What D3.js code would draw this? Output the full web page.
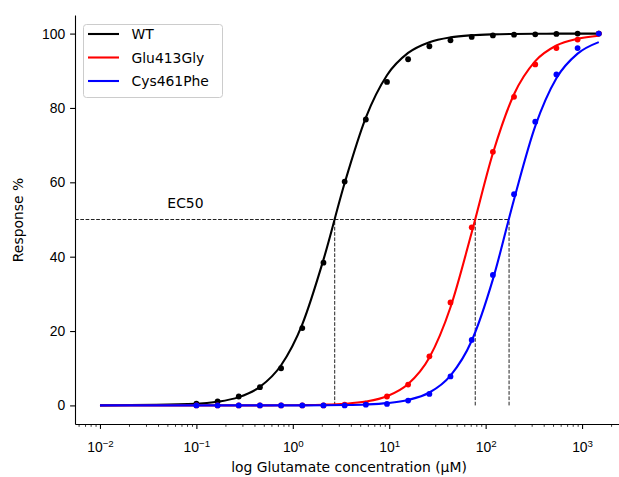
<!DOCTYPE html>
<html>
<head>
<meta charset="utf-8">
<script src="https://cdn.jsdelivr.net/npm/d3@7"></script>
<style>
  body { margin: 0; background: #fff; }
  svg { font-family: "DejaVu Sans", sans-serif; }
</style>
</head>
<body>
<div id="chart"></div>
<script>

// concentrations of the measured points (uM)
var conc = [0.1, 0.166, 0.275, 0.456, 0.756, 1.254, 2.08, 3.45, 5.72, 9.48,
            15.7, 26.1, 43.2, 71.7, 118.9, 197, 327, 542, 899, 1491];

// measured responses (%)
var wtData  = [0.5, 1.1, 2.4, 4.9, 10.0, 20.8, 38.4, 60.2, 76.9, 87.0,
               93.1, 96.6, 98.2, 99.1, 99.5, 99.7, 99.8, 99.9, 100, 100];
var gluData = [0, 0, 0, 0, 0, 0, 0, 0.2, 0.5, 2.4,
               5.6, 13.2, 27.7, 47.9, 68.2, 83.0, 91.7, 96.1, 98.4, 100];
var cysData = [0, 0, 0, 0, 0, 0, 0, 0, 0.2, 0.4,
               1.3, 3.1, 7.8, 17.6, 35.1, 56.8, 76.3, 89.0, 96.1, 100];

// fitted curves
var fitConc = [0.01].concat(conc);
var wtFit  = [0.01, 0.43, 0.98, 2.23, 5.0, 10.8, 21.8, 39.2, 59.8, 77.4, 88.8,
              94.8, 97.7, 99.0, 99.56, 99.8, 99.9, 99.96, 99.98, 99.99, 100];
var gluFit = [0, 0, 0, 0.01, 0.01, 0.03, 0.07, 0.18, 0.43, 1.03, 2.45,
              5.75, 12.9, 26.4, 46.5, 67.8, 83.7, 92.6, 96.8, 98.6, 99.4];
var cysFit = [0, 0, 0, 0, 0, 0.01, 0.02, 0.04, 0.10, 0.25, 0.61,
              1.46, 3.47, 8.03, 17.4, 33.9, 55.4, 75.1, 88.0, 94.6, 97.7];

var seriesNames = ["WT", "Glu413Gly", "Cys461Phe"];
var seriesColors = ["black", "red", "blue"];
var ec50 = [2.72, 78, 175];

var xTicks = [0.01, 0.1, 1, 10, 100, 1000];
var yTicks = [0, 20, 40, 60, 80, 100];

var svgWidth = 619;
var svgHeight = 477;
var fs = 13.9;

var svg = d3.select("#chart")
  .append("svg")
  .attr("width", svgWidth)
  .attr("height", svgHeight);

var x = d3.scaleLog()
  .domain([Math.pow(10, -2.259), Math.pow(10, 3.435)])
  .range([75, 624]);

var y = d3.scaleLinear()
  .domain([-5, 105])
  .range([424, 15]);

// minor x ticks
var minor = [];
for (var e = -3; e <= 3; e++) {
  for (var m = 2; m <= 9; m++) {
    var v = m * Math.pow(10, e);
    if (v > x.domain()[0] && v < x.domain()[1]) minor.push(v);
  }
}

svg.append("g")
  .attr("transform", "translate(0,424)")
  .call(d3.axisBottom(x).tickValues(minor).tickSize(2.8).tickFormat(""))
  .call(g => g.select(".domain").remove())
  .selectAll("line").attr("stroke-width", 0.8);

var xAxis = svg.append("g")
  .attr("transform", "translate(0,424)")
  .call(d3.axisBottom(x).tickValues(xTicks).tickSize(4.9).tickSizeOuter(0));
xAxis.select(".domain").attr("stroke-width", 1.1);
xAxis.selectAll("line").attr("stroke-width", 1.1);
xAxis.selectAll("text")
  .attr("y", 27.6)
  .attr("dy", 0)
  .attr("font-size", fs)
  .attr("fill", "black")
  .each(function(d) {
    var t = d3.select(this);
    var p = Math.round(Math.log10(d));
    t.text(null);
    t.append("tspan").text("10");
    t.append("tspan")
      .attr("dy", "-0.45em")
      .attr("font-size", fs * 0.7)
      .text(p < 0 ? "\u2212" + (-p) : p);
  });

var yAxis = svg.append("g")
  .attr("transform", "translate(75,0)")
  .call(d3.axisLeft(y).tickValues(yTicks).tickSize(4.9).tickPadding(4.9).tickSizeOuter(0));
yAxis.select(".domain").attr("stroke-width", 1.1);
yAxis.selectAll("line").attr("stroke-width", 1.1);
yAxis.selectAll("text").attr("font-size", fs).attr("fill", "black");

svg.append("text")
  .attr("x", 349)
  .attr("y", 472)
  .attr("text-anchor", "middle")
  .attr("font-size", fs)
  .text("log Glutamate concentration (\u03bcM)");

svg.append("text")
  .attr("transform", "translate(23,220) rotate(-90)")
  .attr("text-anchor", "middle")
  .attr("font-size", fs)
  .text("Response %");

// EC50 guides
svg.append("line")
  .attr("x1", x(x.domain()[0]))
  .attr("x2", x(d3.max(ec50)))
  .attr("y1", y(50))
  .attr("y2", y(50))
  .attr("stroke", "#222")
  .attr("stroke-width", 1)
  .attr("stroke-dasharray", "3.7,1.6");

svg.selectAll(".ecline")
  .data(ec50)
  .enter()
  .append("line")
  .attr("class", "ecline")
  .attr("x1", d => x(d))
  .attr("x2", d => x(d))
  .attr("y1", y(0))
  .attr("y2", y(50))
  .attr("stroke", "#222")
  .attr("stroke-width", 1)
  .attr("stroke-dasharray", "3.7,1.6");

svg.append("text")
  .attr("x", x(0.05))
  .attr("y", y(53))
  .attr("font-size", fs)
  .text("EC50");

var line = d3.line()
  .x(d => x(d[0]))
  .y(d => y(d[1]))
  .curve(d3.curveMonotoneX);

var fits = [wtFit, gluFit, cysFit];
var datas = [wtData, gluData, cysData];

fits.forEach(function(f, i) {
  svg.append("path")
    .datum(fitConc.map((c, k) => [c, f[k]]))
    .attr("d", line)
    .attr("fill", "none")
    .attr("stroke", seriesColors[i])
    .attr("stroke-width", 2.1);

  svg.selectAll(".pt" + i)
    .data(conc.map((c, k) => [c, datas[i][k]]))
    .enter()
    .append("circle")
    .attr("class", "pt" + i)
    .attr("cx", d => x(d[0]))
    .attr("cy", d => y(d[1]))
    .attr("r", 2.9)
    .attr("fill", seriesColors[i]);
});

// legend
var legend = svg.append("g");
legend.append("rect")
  .attr("x", 83.5)
  .attr("y", 24.5)
  .attr("width", 139)
  .attr("height", 73)
  .attr("rx", 3)
  .attr("fill", "white")
  .attr("fill-opacity", 0.8)
  .attr("stroke", "#cccccc")
  .attr("stroke-width", 1);

seriesNames.forEach(function(name, i) {
  var cy = 34 + i * 23.5;
  legend.append("line")
    .attr("x1", 88)
    .attr("x2", 119)
    .attr("y1", cy)
    .attr("y2", cy)
    .attr("stroke", seriesColors[i])
    .attr("stroke-width", 2.1);
  legend.append("text")
    .attr("x", 131.5)
    .attr("y", cy + 5)
    .attr("font-size", fs)
    .text(name);
});

</script>
</body>
</html>
